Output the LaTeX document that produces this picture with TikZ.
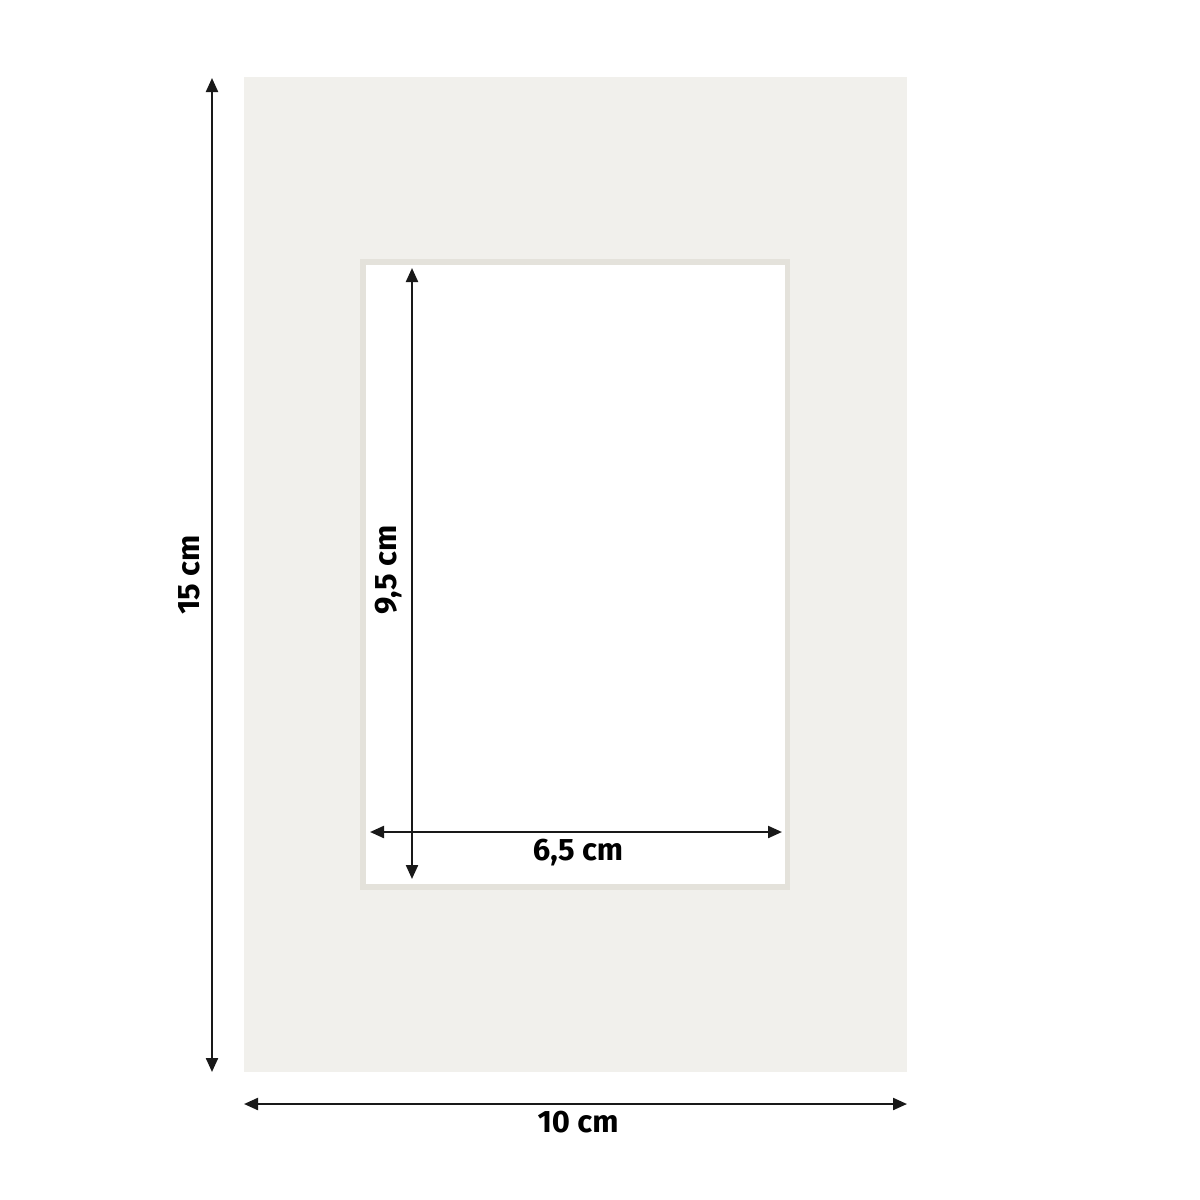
\documentclass[tikz,border=0pt]{standalone}
\usepackage{fontspec}
\setmainfont{Fira Sans}
\usetikzlibrary{arrows.meta}
\definecolor{matcol}{HTML}{F1F0EC}
\definecolor{bevel}{HTML}{E4E2DB}
\tikzset{
  dim/.style={line width=1.1pt, draw=black!90, {Triangle[length=7pt,width=6pt]}-{Triangle[length=7pt,width=6pt]}},
  lbl/.style={font=\fontsize{15.5}{17}\selectfont\bfseries, inner sep=0pt}
}
\begin{document}
\begin{tikzpicture}[x=0.5pt,y=-0.5pt]
\useasboundingbox[fill=white] (0,0) rectangle (1200,1200);
% mat
\fill[matcol] (244,77) rectangle (907,1072);
% bevel and window
\fill[bevel] (360,259) rectangle (790,890);
\fill[white] (366,265) rectangle (785,884);
% coordinates
\coordinate (ot) at (212,78);
\coordinate (ob) at (212,1072);
\coordinate (ol) at (244,1104);
\coordinate (or) at (907,1104);
\coordinate (it) at (412,268);
\coordinate (ib) at (412,879);
\coordinate (il) at (370,832);
\coordinate (ir) at (782,832);
\draw[dim] (ot) -- (ob);
\draw[dim] (ol) -- (or);
\draw[dim] (it) -- (ib);
\draw[dim] (il) -- (ir);
\node[lbl] (l15) at (189,575) [rotate=90] {15 cm};
\node[lbl] (l10) at (578,1122) {10 cm};
\node[lbl] (l95) at (389,570) [rotate=90] {9,5 cm};
\node[lbl] (l65) at (578,853) {6,5 cm};
\end{tikzpicture}
\end{document}
